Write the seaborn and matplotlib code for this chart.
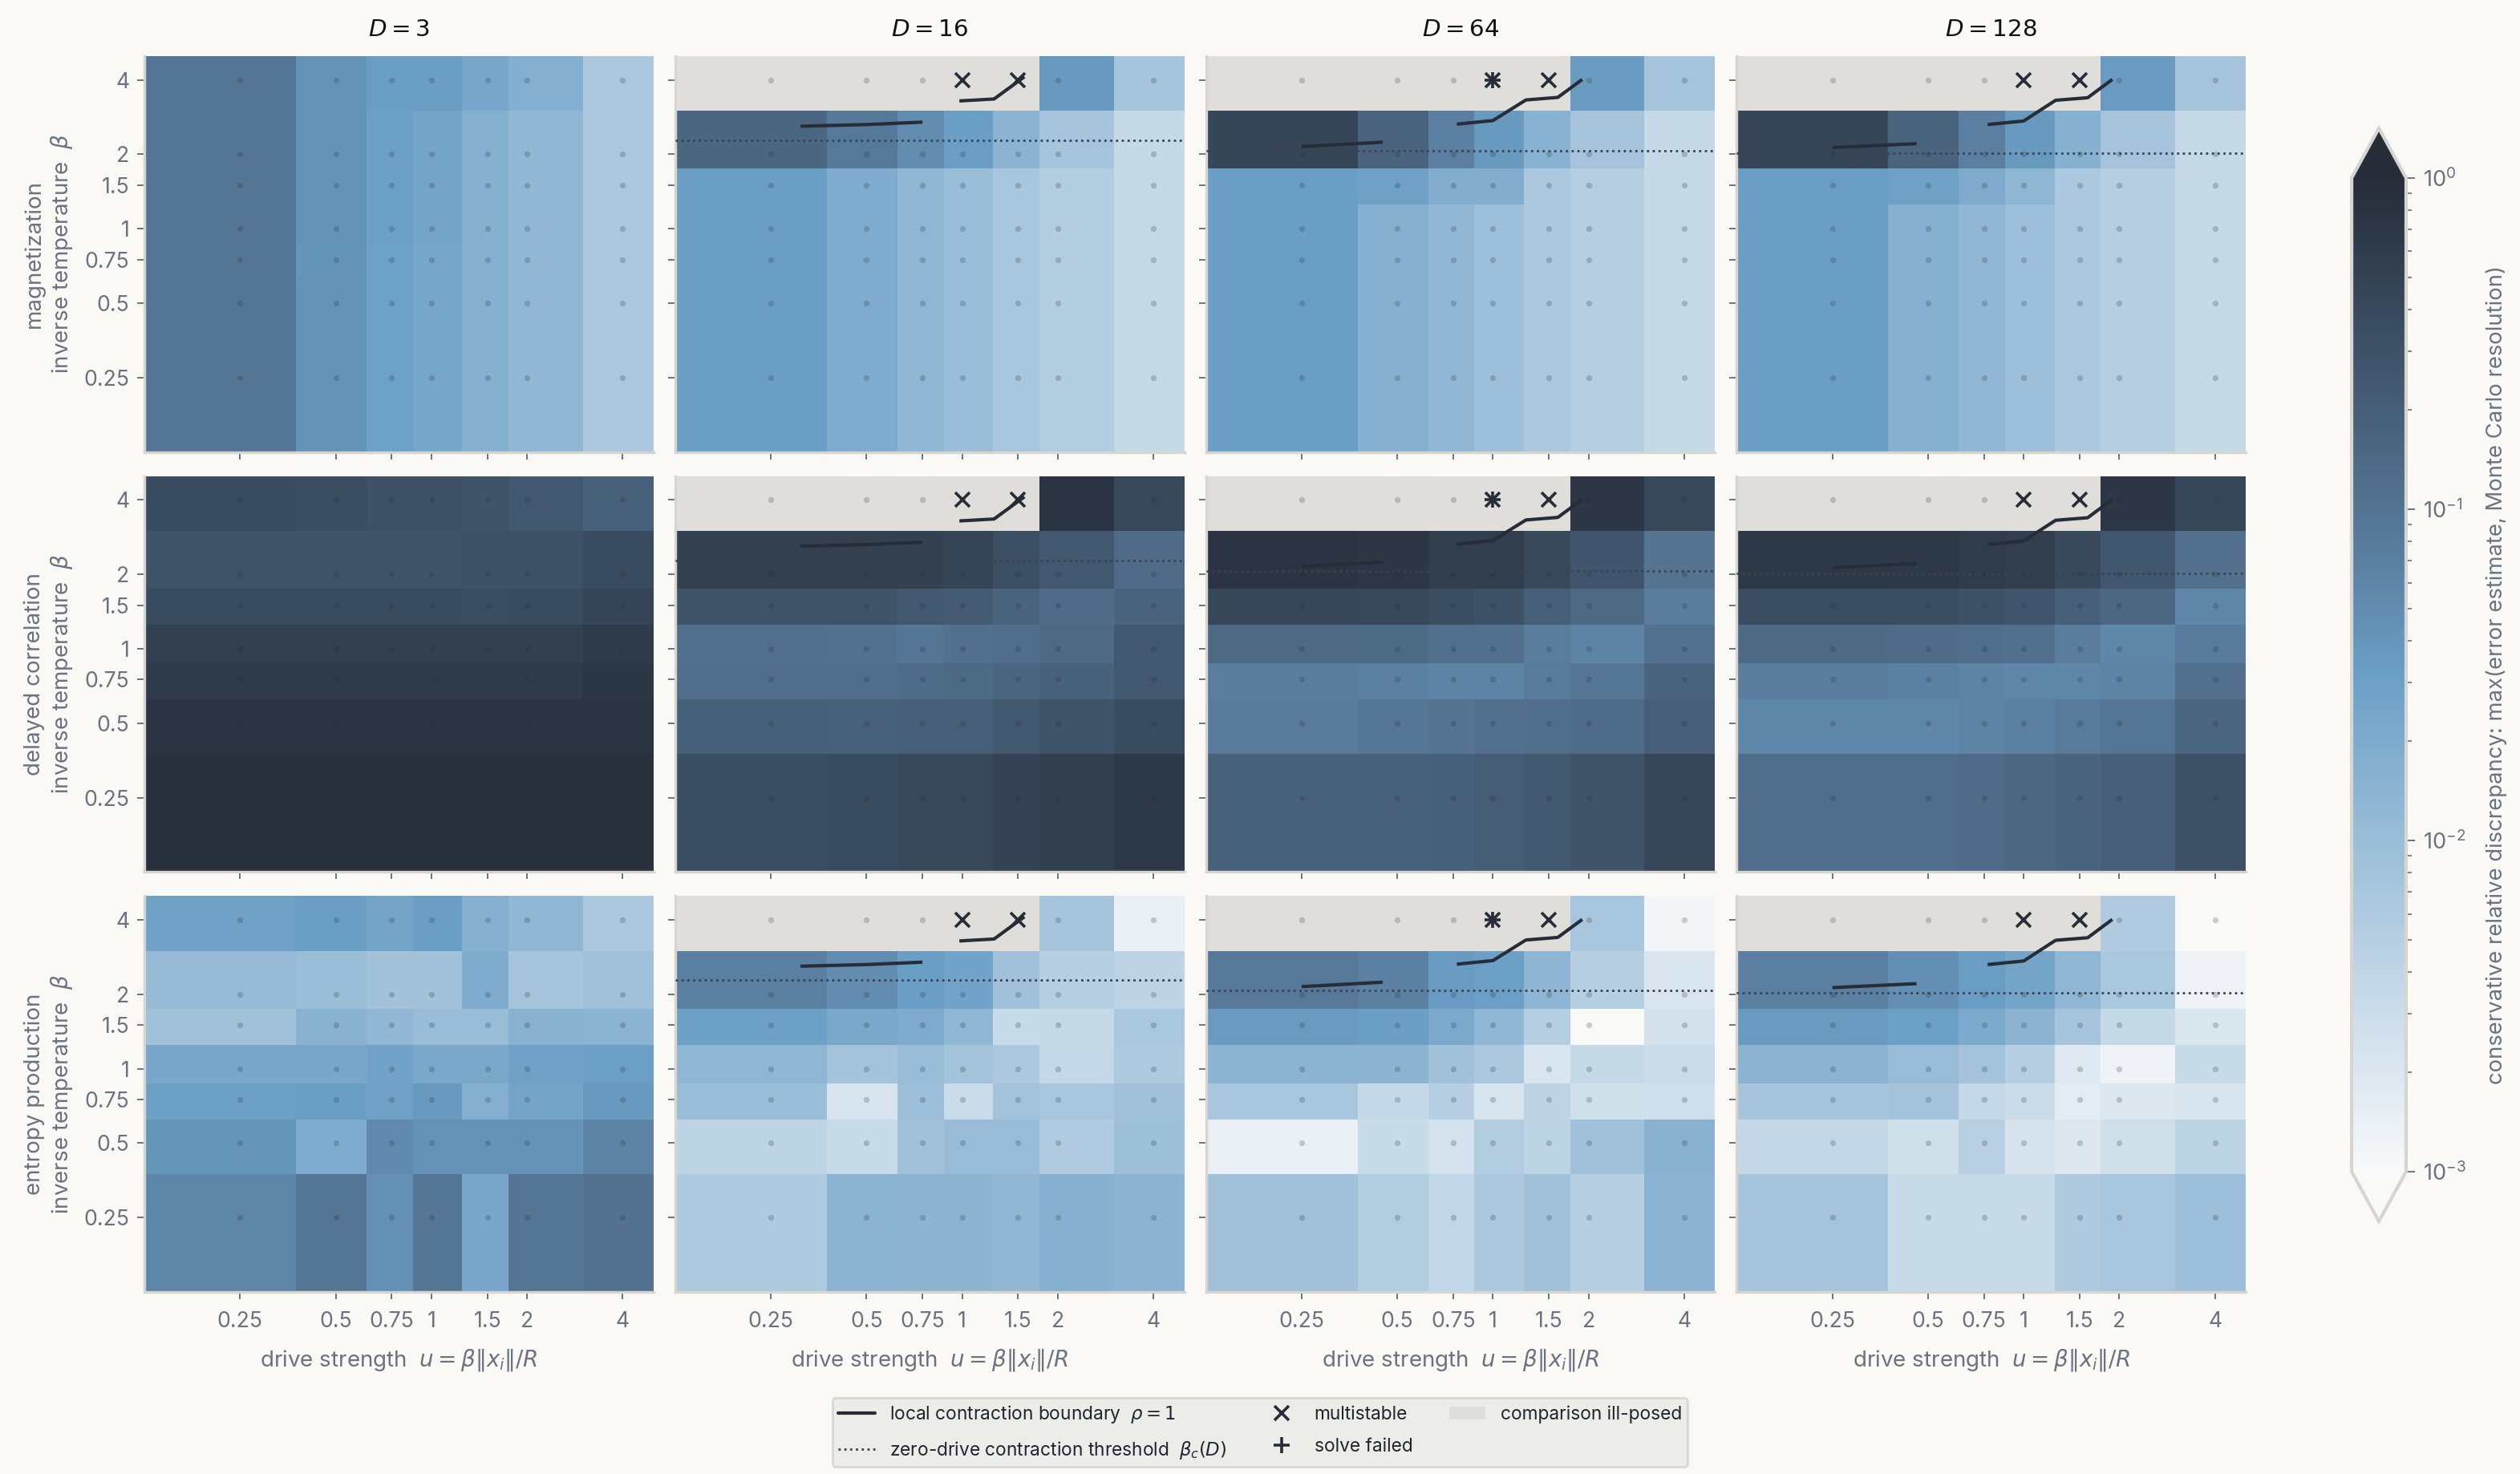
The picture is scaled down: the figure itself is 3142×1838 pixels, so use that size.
import numpy as np
import matplotlib
matplotlib.use("Agg")
import matplotlib.pyplot as plt
import seaborn as sns
import pandas as pd
from matplotlib.colors import LinearSegmentedColormap, LogNorm
from matplotlib.lines import Line2D
from matplotlib.patches import Patch
from matplotlib.ticker import FixedLocator, FixedFormatter, NullLocator

# ---------------- data ----------------
u_values = [0.25, 0.5, 0.75, 1, 1.5, 2, 4]
beta_values = [0.25, 0.5, 0.75, 1, 1.5, 2, 4]
tick_labels = ["0.25", "0.5", "0.75", "1", "1.5", "2", "4"]
D_values = [3, 16, 64, 128]
observables = ["magnetization", "delayed correlation", "entropy production"]

N = np.nan
# log10(conservative relative discrepancy); rows: beta = 0.25 ... 4, columns: u = 0.25 ... 4
# NaN = comparison ill-posed
mag_D3 = [
    [-1.02, -1.37, -1.53, -1.61, -1.79, -1.91, -2.18],
    [-1.02, -1.37, -1.53, -1.61, -1.79, -1.91, -2.18],
    [-1.03, -1.38, -1.53, -1.61, -1.79, -1.91, -2.19],
    [-1.04, -1.36, -1.52, -1.60, -1.78, -1.90, -2.18],
    [-1.03, -1.37, -1.52, -1.60, -1.79, -1.90, -2.18],
    [-1.03, -1.37, -1.52, -1.60, -1.78, -1.90, -2.18],
    [-1.03, -1.37, -1.50, -1.50, -1.63, -1.75, -2.18],
]
mag_D16 = [
    [-1.49, -1.72, -1.88, -2.01, -2.15, -2.27, -2.46],
    [-1.49, -1.72, -1.88, -2.01, -2.15, -2.27, -2.46],
    [-1.49, -1.72, -1.88, -2.01, -2.15, -2.27, -2.46],
    [-1.49, -1.72, -1.88, -2.01, -2.15, -2.27, -2.46],
    [-1.49, -1.72, -1.88, -2.01, -2.15, -2.27, -2.46],
    [-0.80, -1.07, -1.30, -1.50, -1.85, -2.13, -2.45],
    [N, N, N, N, N, -1.44, -2.12],
]
mag_D64 = [
    [-1.50, -1.79, -1.91, -2.03, -2.18, -2.28, -2.46],
    [-1.50, -1.79, -1.91, -2.03, -2.18, -2.28, -2.46],
    [-1.50, -1.79, -1.91, -2.03, -2.18, -2.28, -2.46],
    [-1.50, -1.79, -1.91, -2.03, -2.18, -2.28, -2.46],
    [-1.49, -1.54, -1.74, -1.74, -2.18, -2.28, -2.46],
    [-0.35, -0.78, -1.15, -1.43, -1.81, -2.12, -2.46],
    [N, N, N, N, N, -1.45, -2.11],
]
mag_D128 = [
    [-1.50, -1.79, -1.91, -2.03, -2.18, -2.28, -2.46],
    [-1.50, -1.79, -1.91, -2.03, -2.18, -2.28, -2.46],
    [-1.50, -1.79, -1.91, -2.03, -2.18, -2.28, -2.46],
    [-1.50, -1.79, -1.91, -2.03, -2.18, -2.28, -2.46],
    [-1.48, -1.54, -1.70, -1.88, -2.18, -2.28, -2.46],
    [-0.35, -0.78, -1.16, -1.43, -1.80, -2.12, -2.46],
    [N, N, N, N, N, -1.45, -2.11],
]
corr_D3 = [
    [-0.07, -0.07, -0.07, -0.07, -0.07, -0.07, -0.07],
    [-0.11, -0.11, -0.11, -0.11, -0.11, -0.11, -0.11],
    [-0.20, -0.21, -0.21, -0.21, -0.21, -0.21, -0.15],
    [-0.28, -0.28, -0.28, -0.28, -0.28, -0.28, -0.20],
    [-0.43, -0.43, -0.43, -0.43, -0.44, -0.43, -0.33],
    [-0.54, -0.54, -0.54, -0.54, -0.52, -0.52, -0.43],
    [-0.43, -0.44, -0.50, -0.50, -0.54, -0.61, -0.74],
]
corr_D16 = [
    [-0.45, -0.43, -0.39, -0.38, -0.30, -0.26, -0.17],
    [-0.72, -0.73, -0.70, -0.70, -0.61, -0.54, -0.43],
    [-0.92, -0.92, -0.87, -0.86, -0.80, -0.76, -0.61],
    [-0.96, -0.97, -1.02, -0.96, -0.92, -0.85, -0.61],
    [-0.54, -0.54, -0.61, -0.65, -0.78, -0.89, -0.78],
    [-0.28, -0.28, -0.29, -0.33, -0.48, -0.61, -0.89],
    [N, N, N, N, N, -0.11, -0.39],
]
corr_D64 = [
    [-0.74, -0.74, -0.72, -0.67, -0.61, -0.54, -0.37],
    [-1.10, -1.04, -1.00, -0.96, -0.92, -0.87, -0.70],
    [-1.13, -1.17, -1.20, -1.20, -1.10, -1.02, -0.78],
    [-0.85, -0.86, -0.93, -0.95, -1.13, -1.20, -0.98],
    [-0.37, -0.38, -0.46, -0.52, -0.72, -0.85, -1.13],
    [-0.11, -0.14, -0.24, -0.25, -0.41, -0.57, -1.00],
    [N, N, N, N, N, -0.13, -0.39],
]
corr_D128 = [
    [-0.92, -0.92, -0.89, -0.83, -0.78, -0.70, -0.50],
    [-1.24, -1.24, -1.20, -1.15, -1.10, -1.02, -0.80],
    [-1.13, -1.17, -1.20, -1.24, -1.24, -1.20, -0.96],
    [-0.85, -0.89, -0.92, -0.96, -1.13, -1.24, -1.10],
    [-0.44, -0.46, -0.52, -0.57, -0.72, -0.83, -1.24],
    [-0.17, -0.18, -0.22, -0.24, -0.41, -0.59, -0.96],
    [N, N, N, N, N, -0.13, -0.37],
]
ent_D3 = [
    [-1.22, -1.04, -1.34, -1.04, -1.63, -1.02, -0.98],
    [-1.39, -1.72, -1.28, -1.36, -1.36, -1.37, -1.20],
    [-1.52, -1.50, -1.54, -1.43, -1.75, -1.60, -1.43],
    [-1.63, -1.64, -1.56, -1.65, -1.65, -1.54, -1.51],
    [-2.08, -1.82, -1.90, -1.99, -1.99, -1.82, -1.83],
    [-1.95, -2.01, -2.08, -2.08, -1.72, -2.13, -2.06],
    [-1.54, -1.50, -1.60, -1.50, -1.78, -1.89, -2.18],
]
ent_D16 = [
    [-2.21, -1.83, -1.86, -1.86, -1.91, -1.79, -1.85],
    [-2.37, -2.49, -2.06, -1.97, -1.97, -2.23, -2.05],
    [-2.01, -2.65, -2.03, -2.50, -2.10, -2.15, -2.06],
    [-1.88, -2.10, -1.99, -2.09, -2.18, -2.44, -2.20],
    [-1.52, -1.65, -1.71, -1.89, -2.49, -2.46, -2.16],
    [-1.15, -1.30, -1.50, -1.58, -2.06, -2.30, -2.39],
    [N, N, N, N, N, -2.13, -2.83],
]
ent_D64 = [
    [-2.06, -2.26, -2.41, -2.18, -2.06, -2.30, -1.85],
    [-2.84, -2.49, -2.61, -2.26, -2.37, -2.06, -1.82],
    [-2.15, -2.47, -2.30, -2.64, -2.39, -2.57, -2.56],
    [-1.83, -1.86, -2.08, -2.19, -2.68, -2.45, -2.50],
    [-1.45, -1.50, -1.66, -1.89, -2.28, -3.20, -2.60],
    [-1.07, -1.17, -1.46, -1.51, -1.87, -2.29, -2.67],
    [N, N, N, N, N, -2.15, -2.94],
]
ent_D128 = [
    [-2.12, -2.49, -2.49, -2.49, -2.22, -2.15, -2.03],
    [-2.43, -2.57, -2.32, -2.63, -2.70, -2.57, -2.37],
    [-2.13, -2.10, -2.44, -2.53, -2.78, -2.70, -2.66],
    [-1.85, -1.97, -2.10, -2.30, -2.73, -2.90, -2.49],
    [-1.45, -1.52, -1.68, -1.85, -2.13, -2.46, -2.69],
    [-1.15, -1.33, -1.48, -1.60, -1.88, -2.16, -2.90],
    [N, N, N, N, N, -2.25, -3.20],
]

log_discrepancy = {
    "magnetization": [mag_D3, mag_D16, mag_D64, mag_D128],
    "delayed correlation": [corr_D3, corr_D16, corr_D64, corr_D128],
    "entropy production": [ent_D3, ent_D16, ent_D64, ent_D128],
}

# zero-drive contraction threshold beta_c(D) (None: outside the plotted range)
beta_c = [None, 2.28, 2.07, 2.025]

# local contraction boundary rho = 1 (NaN separates pieces)
boundary_u = [
    [],
    [0.31, 0.50, 0.75, N, 0.98, 1.26, 1.57],
    [0.25, 0.45, N, 0.77, 1.00, 1.27, 1.60, 1.91],
    [0.25, 0.46, N, 0.77, 1.00, 1.26, 1.59, 1.90],
]
boundary_beta = [
    [],
    [2.60, 2.64, 2.70, N, 3.29, 3.35, 4.12],
    [2.15, 2.24, N, 2.65, 2.74, 3.32, 3.40, 4.02],
    [2.13, 2.21, N, 2.64, 2.73, 3.31, 3.39, 4.02],
]

multistable_D = [16, 16, 64, 64, 128, 128]
multistable_u = [1, 1.5, 1, 1.5, 1, 1.5]
multistable_beta = [4, 4, 4, 4, 4, 4]
failed_D = [64]
failed_u = [1]
failed_beta = [4]

# ---------------- style ----------------
BG = "#faf9f6"
TXT = "#6b7280"
DARK = "#262d38"
ILL = "#dfdeda"
SPINE = "#d6d5d0"

sns.set_theme(style="white")
plt.rcParams["font.family"] = ["Inter", "DejaVu Sans"]
plt.rcParams["mathtext.fontset"] = "dejavusans"
plt.rcParams.update({
    "figure.facecolor": BG,
    "axes.facecolor": BG,
    "savefig.facecolor": BG,
    "axes.edgecolor": SPINE,
    "axes.linewidth": 1.2,
    "xtick.color": TXT,
    "ytick.color": TXT,
    "xtick.labelcolor": TXT,
    "ytick.labelcolor": TXT,
    "xtick.labelsize": 9.6,
    "ytick.labelsize": 9.6,
    "axes.labelcolor": TXT,
    "axes.labelsize": 10,
    "xtick.bottom": True,
    "ytick.left": True,
    "xtick.major.size": 3.3,
    "ytick.major.size": 3.3,
    "xtick.major.width": 0.7,
    "ytick.major.width": 0.7,
})

cmap = LinearSegmentedColormap.from_list(
    "disc",
    [(0.0, "#f8f9fa"), (0.5, "#6b9fc6"), (0.623, "#5a7d9e"), (1.0, "#262d38")],
)
cmap.set_bad(ILL)
cmap.set_under("#f9f9f7")
cmap.set_over(DARK)
norm = LogNorm(vmin=1e-3, vmax=1.0)


def cell_edges(v):
    v = np.asarray(v, float)
    mid = (v[:-1] + v[1:]) / 2
    return np.concatenate([[v[0] - (mid[0] - v[0])], mid, [v[-1] + (v[-1] - mid[-1])]])


xe = cell_edges(u_values)
ye = cell_edges(beta_values)

grid_df = pd.DataFrame(
    [(u, b) for b in beta_values for u in u_values], columns=["u", "beta"]
)

fig, axes = plt.subplots(3, 4, figsize=(15.71, 9.19), dpi=200, sharex=True, sharey=True)
fig.subplots_adjust(left=0.0573, right=0.8912, bottom=0.1235, top=0.962,
                    wspace=0.0425, hspace=0.0608)

mesh = None
for r, obs in enumerate(observables):
    for c, D in enumerate(D_values):
        ax = axes[r, c]
        Z = np.ma.masked_invalid(10.0 ** np.asarray(log_discrepancy[obs][c], float))
        mesh = ax.pcolormesh(xe, ye, Z, cmap=cmap, norm=norm, shading="flat",
                             edgecolors="none", antialiased=False, zorder=1)
        sns.scatterplot(data=grid_df, x="u", y="beta", ax=ax, color=DARK, alpha=0.22,
                        s=7, linewidth=0, legend=False, zorder=3)
        if beta_c[c] is not None:
            ax.axhline(beta_c[c], color="#3a4250", lw=1.0, ls=(0, (1, 1.6)), zorder=4)
        if boundary_u[c]:
            ax.plot(boundary_u[c], boundary_beta[c], color=DARK, lw=1.5,
                    solid_capstyle="butt", zorder=5)
        mu = [u for d, u in zip(multistable_D, multistable_u) if d == D]
        mb = [b for d, b in zip(multistable_D, multistable_beta) if d == D]
        if mu:
            ax.plot(mu, mb, ls="none", marker="x", ms=6.5, mew=1.3, color=DARK, zorder=6)
        fu = [u for d, u in zip(failed_D, failed_u) if d == D]
        fb = [b for d, b in zip(failed_D, failed_beta) if d == D]
        if fu:
            ax.plot(fu, fb, ls="none", marker="+", ms=7.5, mew=1.3, color=DARK, zorder=6)

        ax.set_xscale("log")
        ax.set_yscale("log")
        ax.set_xlim(xe[0], xe[-1])
        ax.set_ylim(ye[0], ye[-1])
        ax.xaxis.set_major_locator(FixedLocator(u_values))
        ax.xaxis.set_major_formatter(FixedFormatter(tick_labels))
        ax.xaxis.set_minor_locator(NullLocator())
        ax.yaxis.set_major_locator(FixedLocator(beta_values))
        ax.yaxis.set_major_formatter(FixedFormatter(tick_labels))
        ax.yaxis.set_minor_locator(NullLocator())
        for side in ("top", "right"):
            ax.spines[side].set_visible(False)
        ax.tick_params(axis="x", which="major", direction="out", colors=TXT, pad=5.5)
        ax.tick_params(axis="y", which="major", direction="out", colors=TXT, pad=3.5)
        ax.set_xlabel("")
        ax.set_ylabel("")
        if r == 0:
            ax.set_title(rf"$D = {D}$", fontsize=10.6, color="#111111", pad=9)
        if c == 0:
            ax.set_ylabel(f"{obs}\ninverse temperature  $\\beta$", color=TXT, fontsize=10,
                          linespacing=1.2, labelpad=4)
        if r == 2:
            ax.set_xlabel(r"drive strength  $u = \beta\|x_i\|/R$", color=TXT, fontsize=10,
                          labelpad=6.5)

for ax in axes[:, 1:].ravel():
    ax.tick_params(labelleft=False)
for ax in axes[:2, :].ravel():
    ax.tick_params(labelbottom=False)

# colorbar
cax = fig.add_axes([0.9332, 0.1714, 0.0216, 0.7416])
cbar = fig.colorbar(mesh, cax=cax, extend="both")
cbar.outline.set_edgecolor(SPINE)
cbar.outline.set_linewidth(1.5)
cbar.ax.tick_params(which="both", colors=TXT, labelsize=9.8)
cbar.ax.tick_params(which="major", length=4, width=0.7)
cbar.ax.tick_params(which="minor", length=2.5, width=0.6)
cbar.set_label("conservative relative discrepancy: max(error estimate, Monte Carlo resolution)",
               color=TXT, fontsize=9.9, labelpad=9)

# legend
handles = [
    Line2D([], [], color=DARK, lw=1.5),
    Line2D([], [], color="#3a4250", lw=1.0, ls=(0, (1, 1.6))),
    Line2D([], [], ls="none", marker="x", ms=6.5, mew=1.3, color=DARK),
    Line2D([], [], ls="none", marker="+", ms=7.5, mew=1.3, color=DARK),
    Patch(facecolor=ILL, edgecolor="none"),
]
labels = [
    r"local contraction boundary  $\rho = 1$",
    r"zero-drive contraction threshold  $\beta_c(D)$",
    "multistable",
    "solve failed",
    "comparison ill-posed",
]
leg = fig.legend(handles, labels, loc="lower center", bbox_to_anchor=(0.5, 0.005), ncol=3,
                 frameon=True, fontsize=8.2, columnspacing=2.0, handlelength=2.0,
                 borderpad=0.32, labelspacing=0.75, borderaxespad=0.0, fancybox=True)
leg.get_frame().set_facecolor("#e9e9e5")
leg.get_frame().set_edgecolor("#d2d1cc")
leg.get_frame().set_linewidth(1.0)
for t in leg.get_texts():
    t.set_color("#1f2530")

fig.savefig("out.png", dpi=200, facecolor=BG)
